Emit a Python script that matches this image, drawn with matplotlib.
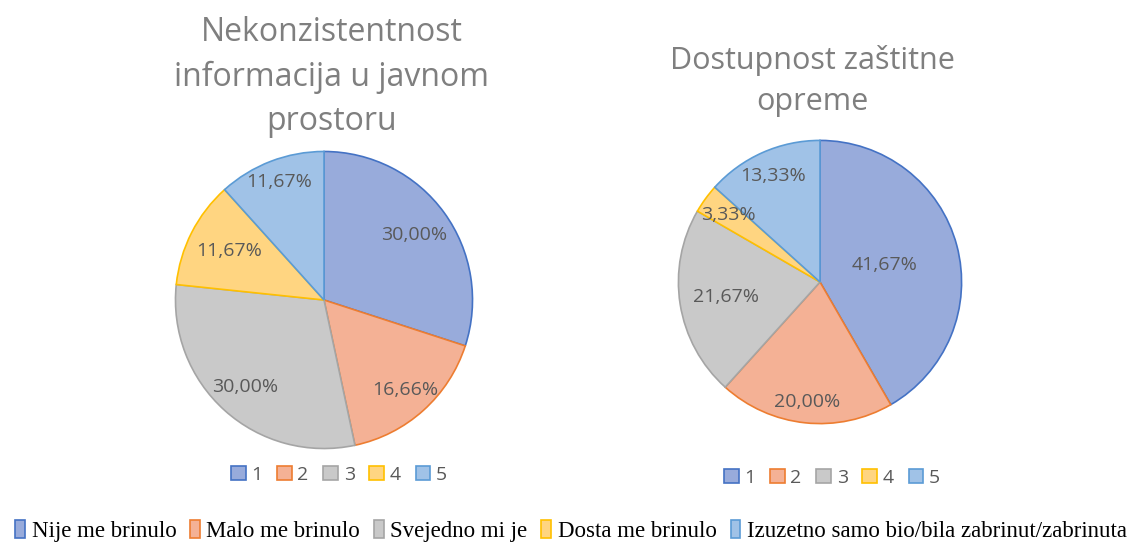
import matplotlib
matplotlib.use("Agg")
import matplotlib.pyplot as plt
import numpy as np
from matplotlib.patches import Patch

# ---- data ----
categories = ["1", "2", "3", "4", "5"]
category_names = ["Nije me brinulo", "Malo me brinulo", "Svejedno mi je",
                  "Dosta me brinulo", "Izuzetno samo bio/bila zabrinut/zabrinuta"]
title1 = "Nekonzistentnost\ninformacija u javnom\nprostoru"
values1 = [30.00, 16.66, 30.00, 11.67, 11.67]
title2 = "Dostupnost zaštitne\nopreme"
values2 = [41.67, 20.00, 21.67, 3.33, 13.33]

# ---- style ----
fill_colors = ["#98ABDB", "#F4B195", "#C9C9C9", "#FFD581", "#A0C2E7"]
edge_colors = ["#4472C4", "#ED7D31", "#A5A5A5", "#FFC000", "#5B9BD5"]
label_dist1 = [0.75, 0.82, 0.79, 0.72, 0.85]
label_dist2 = [0.47, 0.85, 0.67, 0.80, 0.82]
label_color = "#595959"
title_color = "#7F7F7F"

W, H = 1139, 545
fig = plt.figure(figsize=(W / 100, H / 100), dpi=100)
fig.patch.set_facecolor("white")


def fmt(v):
    return ("%.2f" % v).replace(".", ",") + "%"


def draw_pie(cx, cy, r, values, dists):
    ax = fig.add_axes([(cx - r) / W, (H - cy - r) / H, 2 * r / W, 2 * r / H])
    wedges, texts = ax.pie(values, startangle=90, counterclock=False,
                           colors=fill_colors, labels=[fmt(v) for v in values],
                           labeldistance=0.75,
                           wedgeprops=dict(linewidth=1.2),
                           textprops=dict(color=label_color, fontsize=14,
                                          family="Open Sans", ha="center", va="center"))
    for w, ec, t, d in zip(wedges, edge_colors, texts, dists):
        w.set_edgecolor(ec)
        ang = np.deg2rad((w.theta1 + w.theta2) / 2)
        t.set_position((d * np.cos(ang), d * np.sin(ang)))
        t.set_ha("center")
        t.set_va("center")
    ax.set_xlim(-1.01, 1.01)
    ax.set_ylim(-1.01, 1.01)
    ax.set_aspect("equal")
    ax.axis("off")
    return ax


draw_pie(324, 300, 150, values1, label_dist1)
draw_pie(820, 282, 143, values2, label_dist2)

fig.text(332 / W, 1 - 77 / H, title1, ha="center", va="center", fontsize=23,
         color=title_color, family="Open Sans", linespacing=1.45)
fig.text(812 / W, 1 - 81 / H, title2, ha="center", va="center", fontsize=22,
         color=title_color, family="Open Sans", linespacing=1.45)

handles = [Patch(facecolor=f, edgecolor=e, linewidth=1.2) for f, e in zip(fill_colors, edge_colors)]

for cx, cy in [(339, 475), (832, 478)]:
    leg = fig.legend(handles, categories, loc="center", bbox_to_anchor=(cx / W, 1 - cy / H),
                     ncol=5, frameon=False, handlelength=0.75, handleheight=0.75,
                     handletextpad=0.3, columnspacing=0.75, borderpad=0,
                     prop=dict(family="Open Sans", size=14))
    for t in leg.get_texts():
        t.set_color(label_color)

leg = fig.legend(handles, category_names, loc="center", bbox_to_anchor=(571 / W, 1 - 531 / H),
                 ncol=5, frameon=False, handlelength=0.42, handleheight=0.85,
                 handletextpad=0.3, columnspacing=0.6, borderpad=0,
                 prop=dict(family="Liberation Serif", size=16.5))
for t in leg.get_texts():
    t.set_color("black")

fig.savefig("out.png", dpi=100, facecolor="white")
